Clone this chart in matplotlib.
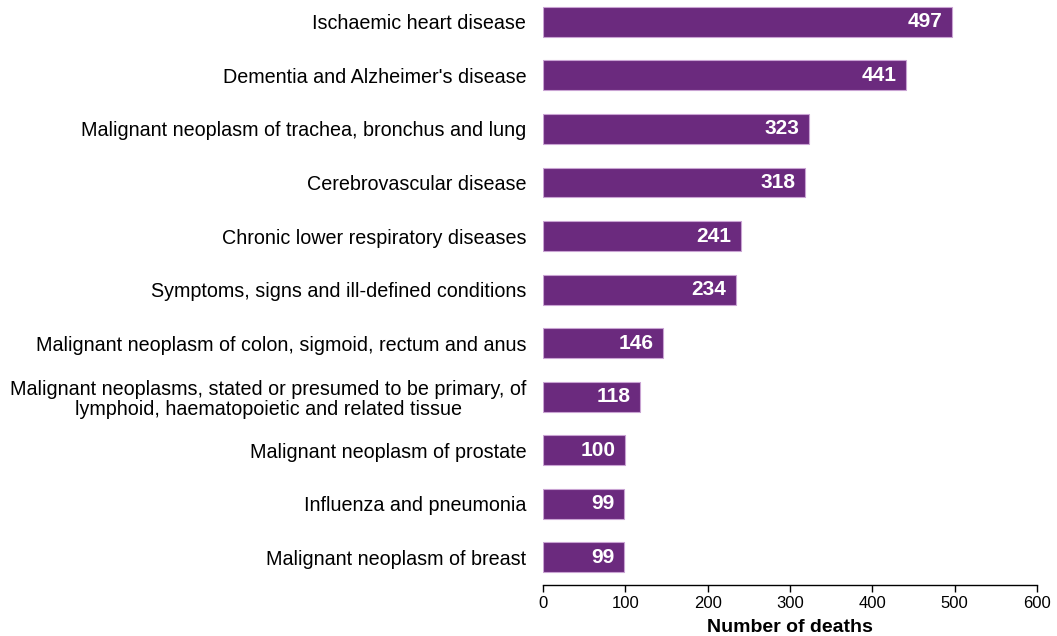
import matplotlib.pyplot as plt

plt.rcParams['font.family'] = ['Liberation Sans', 'DejaVu Sans']

causas = [
    'Ischaemic heart disease',
    "Dementia and Alzheimer's disease",
    'Malignant neoplasm of trachea, bronchus and lung',
    'Cerebrovascular disease',
    'Chronic lower respiratory diseases',
    'Symptoms, signs and ill-defined conditions',
    'Malignant neoplasm of colon, sigmoid, rectum and anus',
    'Malignant neoplasms, stated or presumed to be primary, of\nlymphoid, haematopoietic and related tissue',
    'Malignant neoplasm of prostate',
    'Influenza and pneumonia',
    'Malignant neoplasm of breast',
]
muertes = [497, 441, 323, 318, 241, 234, 146, 118, 100, 99, 99]
ticks_x = [0, 100, 200, 300, 400, 500, 600]

fig = plt.figure(figsize=(10.57, 6.36), dpi=100)
ax = fig.add_axes([0.5137, 0.0802, 0.4673, 0.9198])

pos = list(range(len(causas)))
barras = ax.barh(pos, muertes, height=0.56, color='#6B2A7E', edgecolor='#C9A3D3', linewidth=0.8)

# etiquetas de valor dentro de la barra
for b, v in zip(barras, muertes):
    ax.annotate(str(v), xy=(b.get_width(), b.get_y() + b.get_height() / 2),
                xytext=(-7, 0), textcoords='offset points',
                ha='right', va='center', color='white', fontsize=15, fontweight='bold')

ax.set_yticks(pos)
ax.set_yticklabels(causas, fontsize=14.2, multialignment='center', linespacing=1.1)
ax.set_ylim(10.52, -0.41)
ax.set_xlim(0, 600)
ax.set_xticks(ticks_x)
ax.tick_params(axis='x', labelsize=12, length=5, width=1, direction='out', pad=3)
ax.tick_params(axis='y', length=0, pad=12)

for s in ['top', 'right', 'left']:
    ax.spines[s].set_visible(False)
ax.spines['bottom'].set_linewidth(1)

ax.set_xlabel('Number of deaths', fontsize=14, fontweight='bold', labelpad=6)

fig.savefig('out.png', dpi=100)
